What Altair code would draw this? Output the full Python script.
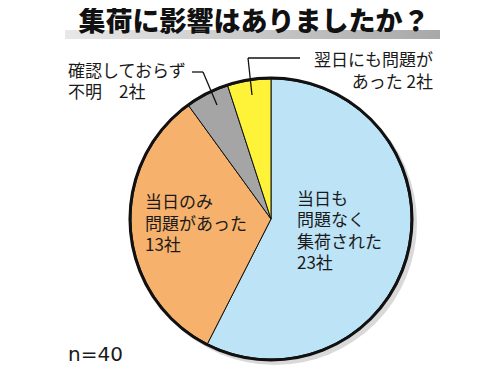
import altair as alt
import pandas as pd

# ---- data ----
categories = ["当日も問題なく集荷された", "当日のみ問題があった", "確認しておらず不明", "翌日にも問題があった"]
values = [23, 13, 2, 2]
colors = ["#bde3f7", "#f6b16c", "#a5a5a5", "#fff33a"]
title_text = "集荷に影響はありましたか？"
n_text = "n=40"

label_blue = f"当日も\n問題なく\n集荷された\n{values[0]}社"
label_orange = f"当日のみ\n問題があった\n{values[1]}社"
label_gray = f"確認しておらず\n不明　{values[2]}社"
label_yellow = f"翌日にも問題が\nあった {values[3]}社"

df = pd.DataFrame({"cat": categories, "val": values, "ord": list(range(len(values)))})

FONT = "Noto Sans CJK JP"
CX, CY, R = 263, 211, 140
one = alt.Data(values=[{}])

base = alt.Chart(df)

shadow = alt.Chart(one).mark_arc(theta=0, theta2=6.2832, outerRadius=R + 2, color="#d9d9d9").encode(
    x=alt.value(CX + 4), y=alt.value(CY + 4))

pie = base.mark_arc(outerRadius=R, stroke="#111111", strokeWidth=1).encode(
    theta=alt.Theta("val:Q", stack=True),
    order=alt.Order("ord:Q"),
    color=alt.Color("cat:N", scale=alt.Scale(domain=categories, range=colors), legend=None),
    x=alt.value(CX), y=alt.value(CY))

ring = alt.Chart(one).mark_arc(theta=0, theta2=6.2832, outerRadius=R + 1, fillOpacity=0,
                                stroke="#111111", strokeWidth=3).encode(
    x=alt.value(CX), y=alt.value(CY))

bar = alt.Chart(one).mark_rect(color=alt.Gradient(
    gradient="linear",
    stops=[alt.GradientStop(offset=0, color="#e8e8e8"), alt.GradientStop(offset=1, color="#a8a8a8")],
    x1=0, x2=1, y1=0, y2=0)).encode(
    x=alt.value(57), x2=alt.value(432), y=alt.value(22), y2=alt.value(31))

title = alt.Chart(one).mark_text(text=title_text, font=FONT, fontSize=27, fontWeight=900,
                                 color="#111111", align="center", baseline="middle").encode(
    x=alt.value(246), y=alt.value(15))

def txt(s, x, y, align="left", lh=21.5):
    return alt.Chart(one).mark_text(text=s, font=FONT, fontSize=17, color="#1a1a1a", align=align,
                                    baseline="middle", lineBreak="\n", lineHeight=lh).encode(
        x=alt.value(x), y=alt.value(y))

t_blue = txt(label_blue, 289, 192, lh=21.3)
t_orange = txt(label_orange, 137, 195, lh=21.5)
t_gray = txt(label_gray, 60, 64, lh=21)
t_yellow = txt(label_yellow, 425, 53, align="right", lh=22)
t_n = alt.Chart(one).mark_text(text=n_text, font="DejaVu Sans", fontSize=20, color="#1a1a1a", align="left",
                               baseline="middle").encode(x=alt.value(60), y=alt.value(347))

def rule(x1, y1, x2, y2):
    return alt.Chart(one).mark_rule(color="#111111", strokeWidth=1.3).encode(
        x=alt.value(x1), y=alt.value(y1), x2=alt.value(x2), y2=alt.value(y2))

leaders = [
    rule(184, 64, 195, 64),
    rule(195, 64, 209, 97),
    rule(240, 50, 292, 50),
    rule(240, 50, 244, 87),
]

chart = alt.layer(shadow, pie, ring, bar, title, t_blue, t_orange, t_gray, t_yellow, t_n, *leaders).properties(
    width=484, height=359, autosize=alt.AutoSizeParams(type="none"), padding=0
).configure_view(stroke=None)

chart.save("out.html", embed_options={"renderer": "svg", "actions": False})
